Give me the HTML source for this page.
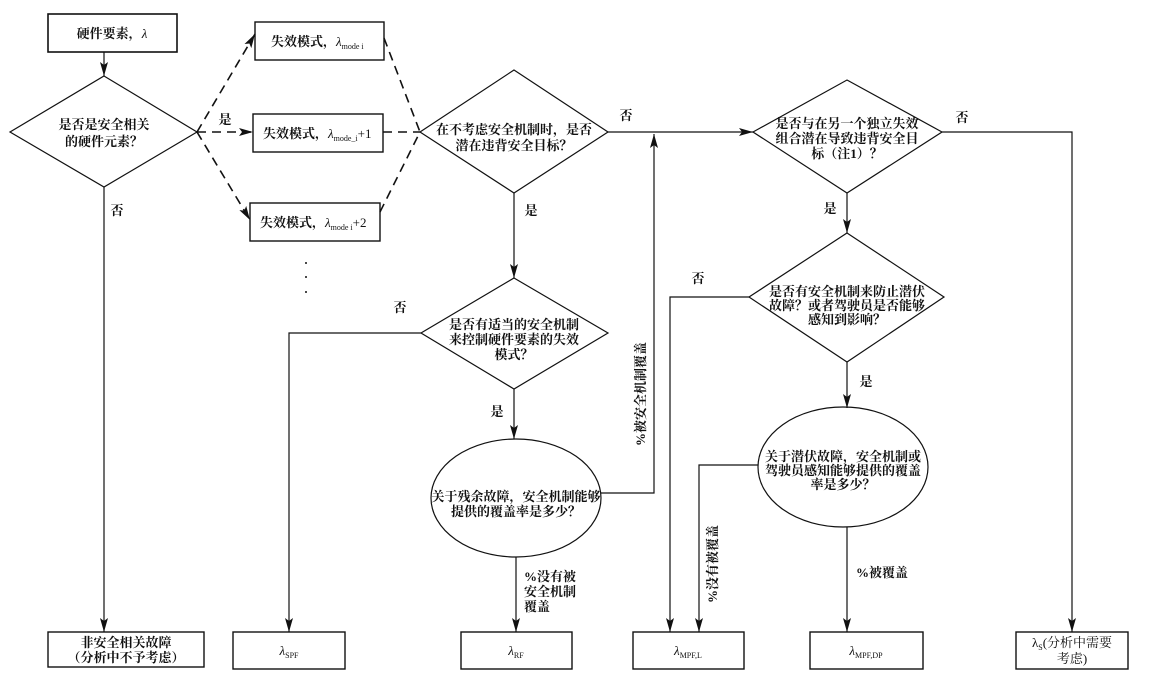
<!DOCTYPE html>
<html><head><meta charset="utf-8"><style>
html,body{margin:0;padding:0;background:#fff;}
svg{display:block;}
text{font-family:"Liberation Serif","Noto Serif CJK SC",serif;font-size:13px;fill:#111;font-weight:bold;}
.s{font-size:8px;font-weight:normal;}
.l{font-weight:normal;font-style:italic;}
</style></head><body>
<svg width="1154" height="682" viewBox="0 0 1154 682" xmlns="http://www.w3.org/2000/svg">
<defs>
<marker id="h" markerWidth="14" markerHeight="8" refX="14" refY="4" orient="auto" markerUnits="userSpaceOnUse" viewBox="0 0 14 8">
<path d="M0,0 L14,4 L0,8 L3,4 Z" fill="#111"/>
</marker>
</defs>
<g fill="none" stroke="#111" stroke-width="1.2">
<rect x="48" y="14" width="129" height="38" stroke-width="1.6"/>
<polygon points="104,76 197,132 104,187 10,132"/>
<rect x="255" y="22" width="129" height="38" stroke-width="1.4"/>
<rect x="253" y="114" width="130" height="38" stroke-width="1.4"/>
<rect x="250" y="203" width="130" height="38" stroke-width="1.4"/>
<polygon points="514,70 608,132 514,193 420,132"/>
<polygon points="514,278 608,333 514,389 421,333"/>
<ellipse cx="516" cy="498" rx="85" ry="59"/>
<polygon points="847,80 942,132 847,193 753,132"/>
<polygon points="847,233 944,297 847,362 749,297"/>
<ellipse cx="843" cy="467" rx="85" ry="60"/>
<rect x="48" y="632" width="156" height="35" stroke-width="1.4"/>
<rect x="233" y="632" width="112" height="37" stroke-width="1.4"/>
<rect x="461" y="632" width="111" height="37" stroke-width="1.4"/>
<rect x="633" y="632" width="111" height="37" stroke-width="1.4"/>
<rect x="810" y="632" width="113" height="37" stroke-width="1.4"/>
<rect x="1016" y="632" width="112" height="37" stroke-width="1.4"/>

<line x1="104" y1="52" x2="104" y2="76" marker-end="url(#h)"/>
<line x1="104" y1="187" x2="104" y2="632" marker-end="url(#h)"/>
<line x1="514" y1="193" x2="514" y2="278" marker-end="url(#h)"/>
<polyline points="421,333 289,333 289,632" marker-end="url(#h)"/>
<line x1="514" y1="389" x2="514" y2="439" marker-end="url(#h)"/>
<line x1="516" y1="557" x2="516" y2="632" marker-end="url(#h)"/>
<polyline points="601,493 654,493 654,134" marker-end="url(#h)"/>
<line x1="608" y1="132" x2="753" y2="132" marker-end="url(#h)"/>
<polyline points="942,132 1072,132 1072,632" marker-end="url(#h)"/>
<line x1="847" y1="193" x2="847" y2="233" marker-end="url(#h)"/>
<polyline points="749,297 670,297 670,632" marker-end="url(#h)"/>
<line x1="847" y1="362" x2="847" y2="408" marker-end="url(#h)"/>
<polyline points="758,465 699,465 699,632" marker-end="url(#h)"/>
<line x1="847" y1="527" x2="847" y2="632" marker-end="url(#h)"/>

<g stroke-dasharray="9,6" stroke-width="1.6">
<line x1="197" y1="132" x2="255" y2="34" marker-end="url(#h)"/>
<line x1="197" y1="132" x2="253" y2="132" marker-end="url(#h)"/>
<line x1="197" y1="132" x2="250" y2="220" marker-end="url(#h)"/>
<line x1="384" y1="38" x2="420" y2="132"/>
<line x1="383" y1="132" x2="420" y2="132"/>
<line x1="380" y1="212" x2="420" y2="132"/>
</g>
</g>
<g fill="#111">
<circle cx="306" cy="263" r="1"/><circle cx="306" cy="277" r="1"/><circle cx="306" cy="292" r="1"/>
</g>

<text x="112" y="38" text-anchor="middle">硬件要素，<tspan class="l">λ</tspan></text>
<text x="104" y="129" text-anchor="middle">是否是安全相关</text>
<text x="104" y="146" text-anchor="middle">的硬件元素？</text>
<text x="271" y="46">失效模式，<tspan class="l">λ</tspan><tspan class="s" dy="3">mode i</tspan></text>
<text x="263" y="138">失效模式，<tspan class="l">λ</tspan><tspan class="s" dy="3">mode_i</tspan><tspan dy="-3" style="font-weight:normal">+1</tspan></text>
<text x="260" y="227">失效模式，<tspan class="l">λ</tspan><tspan class="s" dy="3">mode i</tspan><tspan dy="-3" style="font-weight:normal">+2</tspan></text>
<text x="225" y="124" text-anchor="middle">是</text>
<text x="117" y="215" text-anchor="middle">否</text>
<text x="514" y="134" text-anchor="middle">在不考虑安全机制时，是否</text>
<text x="514" y="150" text-anchor="middle">潜在违背安全目标？</text>
<text x="531" y="215" text-anchor="middle">是</text>
<text x="626" y="120" text-anchor="middle">否</text>
<text x="400" y="312" text-anchor="middle">否</text>
<text x="514" y="329" text-anchor="middle">是否有适当的安全机制</text>
<text x="514" y="344" text-anchor="middle">来控制硬件要素的失效</text>
<text x="514" y="359" text-anchor="middle">模式？</text>
<text x="497" y="416" text-anchor="middle">是</text>
<text x="516" y="501" text-anchor="middle">关于残余故障，安全机制能够</text>
<text x="516" y="516" text-anchor="middle">提供的覆盖率是多少？</text>
<text x="524" y="581">%没有被</text>
<text x="524" y="596">安全机制</text>
<text x="524" y="611">覆盖</text>
<text transform="translate(645,394) rotate(-90)" text-anchor="middle">%被安全机制覆盖</text>
<text x="847" y="128" text-anchor="middle">是否与在另一个独立失效</text>
<text x="847" y="143" text-anchor="middle">组合潜在导致违背安全目</text>
<text x="847" y="158" text-anchor="middle">标（注1）？</text>
<text x="962" y="122" text-anchor="middle">否</text>
<text x="830" y="213" text-anchor="middle">是</text>
<text x="698" y="283" text-anchor="middle">否</text>
<text x="847" y="296" text-anchor="middle">是否有安全机制来防止潜伏</text>
<text x="847" y="310" text-anchor="middle">故障？或者驾驶员是否能够</text>
<text x="847" y="324" text-anchor="middle">感知到影响？</text>
<text x="866" y="386" text-anchor="middle">是</text>
<text x="843" y="461" text-anchor="middle">关于潜伏故障，安全机制或</text>
<text x="843" y="475" text-anchor="middle">驾驶员感知能够提供的覆盖</text>
<text x="843" y="489" text-anchor="middle">率是多少？</text>
<text transform="translate(717,564) rotate(-90)" text-anchor="middle">%没有被覆盖</text>
<text x="856" y="577">%被覆盖</text>
<text x="126" y="647" text-anchor="middle">非安全相关故障</text>
<text x="126" y="662" text-anchor="middle">（分析中不予考虑）</text>
<text x="289" y="655" text-anchor="middle" style="font-weight:normal"><tspan class="l">λ</tspan><tspan class="s" dy="3">SPF</tspan></text>
<text x="516" y="655" text-anchor="middle" style="font-weight:normal"><tspan class="l">λ</tspan><tspan class="s" dy="3">RF</tspan></text>
<text x="688" y="655" text-anchor="middle" style="font-weight:normal"><tspan class="l">λ</tspan><tspan class="s" dy="3">MPF,L</tspan></text>
<text x="866" y="655" text-anchor="middle" style="font-weight:normal"><tspan class="l">λ</tspan><tspan class="s" dy="3">MPF,DP</tspan></text>
<text x="1072" y="647" text-anchor="middle" style="font-weight:normal">λ<tspan class="s" dy="3">S</tspan><tspan dy="-3">(分析中需要</tspan></text>
<text x="1072" y="663" text-anchor="middle" style="font-weight:normal">考虑)</text>
</svg>
</body></html>
